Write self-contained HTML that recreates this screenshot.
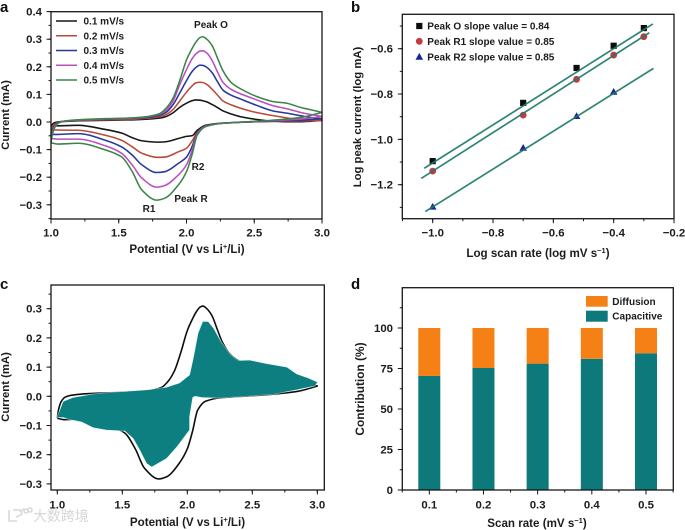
<!DOCTYPE html>
<html>
<head>
<meta charset="utf-8">
<title>Cyclic voltammetry and capacitive contribution panels</title>
<style>
html,body{margin:0;padding:0;background:#fff;width:685px;height:530px;overflow:hidden}
svg{display:block}
text{font-family:"Liberation Sans","Noto Sans CJK SC",sans-serif;fill:#1c1c1c;font-weight:700}
.tick{font-size:11.4px}
.title{font-size:11.6px}
.note{font-size:10px}
.letter{font-size:15px;fill:#111}
</style>
</head>
<body>
<svg id="figure" xmlns="http://www.w3.org/2000/svg" width="685" height="530" viewBox="0 0 685 530">
<defs><filter id="soft" x="-2%" y="-2%" width="104%" height="104%"><feGaussianBlur stdDeviation="0.38"/></filter></defs>
<g id="root" filter="url(#soft)">
  <g id="watermark">
    <path d="M9 510v11h8M13 510h6q4 1 2 5l-5 2M20 512a7 4 0 0 1 4-3M24 511a2 2 0 1 0 4 0a2 2 0 1 0-4 0M28 510a2 2 0 1 0 4 0a2 2 0 1 0-4 0" fill="none" stroke="#d9d9d9" stroke-width="1.6"/>
    <text x="33" y="521" style="font-size:14px;fill:#d6d6d6;font-weight:400;letter-spacing:-0.1px">大数跨境</text>
  </g>
  <g id="panel-a">
    <text class="letter" x="0" y="12">a</text>
    <text class="title" x="187" y="253" text-anchor="middle">Potential (V vs Li<tspan dy="-4" font-size="7.5">+</tspan><tspan dy="4">/Li)</tspan></text>
    <text class="title" style="font-size:11.3px" transform="translate(9,115) rotate(-90)" text-anchor="middle">Current (mA)</text>
    <text class="note" x="211" y="28" text-anchor="middle">Peak O</text>
    <text class="note" x="198" y="170" text-anchor="middle">R2</text>
    <text class="note" x="191" y="202" text-anchor="middle">Peak R</text>
    <text class="note" x="149" y="212" text-anchor="middle">R1</text>
  </g>
  <g id="panel-b">
    <text class="letter" x="351" y="12">b</text>
    <text class="title" x="538" y="257" text-anchor="middle">Log scan rate (log mV s<tspan dy="-4" font-size="7.5">−1</tspan><tspan dy="4">)</tspan></text>
    <text class="title" style="font-size:11.3px" transform="translate(361,117) rotate(-90)" text-anchor="middle">Log peak current (log mA)</text>
  </g>
  <g id="panel-c">
    <text class="letter" x="0" y="289">c</text>
    <text class="title" x="187.5" y="526" text-anchor="middle">Potential (V vs Li<tspan dy="-4" font-size="7.5">+</tspan><tspan dy="4">/Li)</tspan></text>
    <text class="title" style="font-size:11.3px" transform="translate(9,387) rotate(-90)" text-anchor="middle">Current (mA)</text>
  </g>
  <g id="panel-d">
    <text class="letter" x="351" y="289">d</text>
    <text class="title" x="537" y="527" text-anchor="middle">Scan rate (mV s<tspan dy="-4" font-size="7.5">−1</tspan><tspan dy="4">)</tspan></text>
    <text class="title" style="font-size:11.9px" transform="translate(364,389) rotate(-90)" text-anchor="middle">Contribution (%)</text>
  </g>
</g>
</svg>
<script>
// ---- Panel a data ----
const scanRates = ["0.1 mV/s", "0.2 mV/s", "0.3 mV/s", "0.4 mV/s", "0.5 mV/s"];
const anodicV = [1.0,1.01,1.03,1.06,1.1,1.2,1.4,1.6,1.7,1.8,1.85,1.9,1.95,2.0,2.04,2.07,2.1,2.12,2.15,2.19,2.23,2.27,2.33,2.4,2.52,2.64,2.74,2.84,2.92,3.0];
const anodic01 = [-.015,-.008,-.002,.001,.002,.004,.006,.008,.01,.014,.02,.033,.053,.068,.077,.08,.079,.077,.073,.063,.052,.04,.029,.019,.009,.003,.001,.001,.003,.006];
const anodic02 = [-.028,-.018,-.007,0,.003,.005,.008,.01,.013,.019,.027,.045,.076,.108,.13,.142,.144,.143,.136,.118,.097,.076,.062,.05,.034,.023,.015,.008,.006,.005];
const anodic03 = [-.045,-.028,-.012,-.001,.003,.006,.01,.013,.016,.024,.035,.062,.105,.15,.182,.198,.206,.205,.198,.178,.145,.115,.097,.083,.06,.04,.032,.023,.016,.012];
const anodic04 = [-.06,-.038,-.015,-.002,.003,.007,.011,.014,.018,.028,.042,.075,.135,.19,.228,.247,.257,.258,.25,.222,.18,.143,.118,.102,.08,.059,.048,.035,.027,.02];
const anodic05 = [-.075,-.045,-.018,-.003,.003,.008,.012,.015,.019,.03,.05,.086,.15,.225,.265,.29,.306,.309,.3,.276,.23,.185,.143,.12,.092,.074,.068,.053,.044,.035];
const cathodicV = [3.0,2.85,2.6,2.26,2.14,2.08,2.04,2.0,1.94,1.84,1.78,1.67,1.6,1.52,1.4,1.2,1.05,1.0];
const cathodic01 = [.006,.003,.002,-.004,-.012,-.03,-.05,-.052,-.06,-.072,-.073,-.068,-.057,-.04,-.027,-.012,-.014,-.015];
const cathodic02 = [.005,.004,.002,-.004,-.014,-.037,-.07,-.095,-.108,-.127,-.128,-.113,-.09,-.066,-.048,-.03,-.029,-.028];
const cathodic03 = [.012,.007,.003,-.005,-.015,-.04,-.09,-.127,-.15,-.18,-.183,-.155,-.12,-.09,-.066,-.042,-.045,-.045];
const cathodic04 = [.02,.011,.004,-.005,-.016,-.043,-.105,-.155,-.192,-.23,-.236,-.203,-.156,-.113,-.086,-.062,-.062,-.06];
const cathodic05 = [.035,.017,.005,-.005,-.017,-.047,-.12,-.18,-.228,-.276,-.283,-.246,-.18,-.126,-.101,-.077,-.08,-.075];
const cvColors = ["#141414", "#bb4a38", "#26389a", "#bb4fc0", "#3a8547"];
const aXTicks = [1.0, 1.5, 2.0, 2.5, 3.0];
const aYTicks = [-0.3, -0.2, -0.1, 0.0, 0.1, 0.2, 0.3, 0.4];

// ---- Panel b data ----
const logScanRate = [-1.0, -0.7, -0.523, -0.4, -0.3];
const logPeakO = [-1.096, -0.839, -0.685, -0.587, -0.509];
const logPeakR1 = [-1.14, -0.893, -0.735, -0.628, -0.547];
const logPeakR2 = [-1.297, -1.037, -0.897, -0.79];
const fitSlopes = [0.84, 0.85, 0.835];
const fitIntercepts = [-0.264, -0.29, -0.463];
const fitStart = [-1.028, -1.038, -1.0245];
const fitEnd = [-0.27, -0.282, -0.268];
const bLegend = ["Peak O slope value = 0.84", "Peak R1 slope value = 0.85", "Peak R2 slope value = 0.85"];
const bXTicks = [-1.0, -0.8, -0.6, -0.4, -0.2];
const bYTicks = [-1.2, -1.0, -0.8, -0.6];

// ---- Panel c data ----
const capacitiveV = [1.0,1.046,1.12,1.277,1.457,1.713,1.84,1.94,2.02,2.05,2.085,2.12,2.16,2.2,2.265,2.33,2.39,2.48,2.61,2.765,2.84,2.93,3.0,2.98,2.84,2.66,2.457,2.226,2.11,2.06,2.04,2.015,2.015,1.92,1.84,1.726,1.688,1.636,1.585,1.52,1.38,1.277,1.188,1.098,1.046,1.0];
const capacitiveI = [-.072,-.018,-.005,.007,.014,.022,.03,.045,.073,.135,.216,.255,.255,.233,.181,.141,.122,.123,.111,.099,.076,.062,.048,.036,.023,.008,.001,-.005,-.003,.001,-.003,-.07,-.115,-.172,-.212,-.241,-.229,-.184,-.144,-.118,-.115,-.107,-.087,-.079,-.072,-.072];
const cXTicks = [1.0, 1.5, 2.0, 2.5, 3.0];
const cYTicks = [-0.3, -0.2, -0.1, 0.0, 0.1, 0.2, 0.3];

// ---- Panel d data ----
const dCategories = ["0.1", "0.2", "0.3", "0.4", "0.5"];
const capacitiveShare = [70.4, 75.3, 78, 81, 84.4];
const dYTicks = [0, 25, 50, 75, 100];

// ---- helpers ----
const NS = "http://www.w3.org/2000/svg";
function mk(tag, attrs, parent) {
  const el = document.createElementNS(NS, tag);
  for (const k in attrs) el.setAttribute(k, attrs[k]);
  parent.appendChild(el);
  return el;
}
function linear(d0, d1, r0, r1) {
  return v => r0 + (v - d0) * (r1 - r0) / (d1 - d0);
}
function fmt(v, digits) {
  const s = Math.abs(v).toFixed(digits);
  return (v < -1e-9 ? "\u2212" : "") + s;
}
function smooth(pts, move) {
  const n = pts.length, s = [], m = [];
  for (let i = 0; i < n - 1; i++) s.push((pts[i + 1][1] - pts[i][1]) / (pts[i + 1][0] - pts[i][0]));
  m[0] = s[0];
  m[n - 1] = s[n - 2];
  for (let i = 1; i < n - 1; i++) m[i] = s[i - 1] * s[i] <= 0 ? 0 : 2 * s[i - 1] * s[i] / (s[i - 1] + s[i]);
  let d = move ? "M" + pts[0][0].toFixed(2) + " " + pts[0][1].toFixed(2) : "";
  for (let i = 0; i < n - 1; i++) {
    const h = pts[i + 1][0] - pts[i][0];
    d += "C" + (pts[i][0] + h / 3).toFixed(2) + " " + (pts[i][1] + m[i] * h / 3).toFixed(2) + " " +
      (pts[i + 1][0] - h / 3).toFixed(2) + " " + (pts[i + 1][1] - m[i + 1] * h / 3).toFixed(2) + " " +
      pts[i + 1][0].toFixed(2) + " " + pts[i + 1][1].toFixed(2);
  }
  return d;
}
function loopPath(x, y, up, upV, down, downV) {
  const a = up.map((v, i) => [x(upV[i]), y(v)]);
  const b = down.map((v, i) => [x(downV[i]), y(v)]);
  return smooth(a, true) + smooth(b, false);
}
function drawFrame(parent, prefix, box) {
  const el = mk("rect", {x: box.l, y: box.t, width: box.r - box.l, height: box.b - box.t, fill: "none", stroke: "#161616", "stroke-width": 1.3}, parent);
  
  
}
function xTick(parent, prefix, box, px, len) {
  const el = mk("line", {x1: px, x2: px, y1: box.b, y2: box.b + len, stroke: "#161616", "stroke-width": 1}, parent);
  
  
}
function yTick(parent, prefix, box, py, len) {
  const el = mk("line", {x1: box.l, x2: box.l - len, y1: py, y2: py, stroke: "#161616", "stroke-width": 1}, parent);
  
  
}
function xLabel(parent, prefix, px, py, str) {
  const el = mk("text", {x: px, y: py, "text-anchor": "middle", class: "tick"}, parent);
  el.textContent = str;
  
  
}
function yLabel(parent, prefix, px, py, str) {
  const el = mk("text", {x: px, y: py + 4, "text-anchor": "end", class: "tick"}, parent);
  el.textContent = str;
  
  
}
function minorBetween(ticks, lo, hi) {
  const step = (ticks[1] - ticks[0]) / 2, out = [];
  for (let v = ticks[0] - step * 4; v <= hi + 1e-6; v += step) {
    if (v >= lo - 1e-6) out.push(v);
  }
  return out;
}

// ---- Panel a ----
(function () {
  const g = document.getElementById("panel-a");
  const box = {l: 51, r: 322, t: 11.7, b: 219};
  const x = linear(1, 3, 51, 322), y = linear(0, 0.4, 122, 11.6);
  const ups = [anodic01, anodic02, anodic03, anodic04, anodic05];
  const downs = [cathodic01, cathodic02, cathodic03, cathodic04, cathodic05];
  scanRates.forEach((name, i) => {
    const p = mk("path", {d: loopPath(x, y, ups[i], anodicV, downs[i], cathodicV), fill: "none", stroke: cvColors[i], "stroke-width": 1.55, "stroke-linejoin": "round"}, g);
    
    
    const ly = 21 + i * 14.75;
    const sw = mk("line", {x1: 56, x2: 77, y1: ly, y2: ly, stroke: cvColors[i], "stroke-width": 1.6}, g);
    
    
    const t = mk("text", {x: 83.5, y: ly + 3.6, class: "note"}, g);
    t.textContent = name;
    
    
  });
  drawFrame(g, "panel-a", box);
  minorBetween(aXTicks, 1, 3).forEach(v => xTick(g, "panel-a-minor", box, x(v), 2.5));
  minorBetween(aYTicks, -0.35, 0.4).forEach(v => yTick(g, "panel-a-minor", box, y(v), 2.5));
  aXTicks.forEach(v => { xTick(g, "panel-a", box, x(v), 4.5); xLabel(g, "panel-a", x(v), 236.5, v.toFixed(1)); });
  aYTicks.forEach(v => { yTick(g, "panel-a", box, y(v), 4.5); yLabel(g, "panel-a", 42, y(v), fmt(v, 1)); });
})();

// ---- Panel b ----
(function () {
  const g = document.getElementById("panel-b");
  const box = {l: 402.3, r: 674, t: 14.3, b: 218.7};
  const x = linear(-1, -0.2, 432.7, 674), y = linear(-0.6, -1.2, 48.7, 184.7);
  function square(px, py, name) {
    const el = mk("rect", {x: px - 3.1, y: py - 3.1, width: 6.2, height: 6.2, fill: "#111"}, g);
    
    
  }
  function circle(px, py, name) {
    const el = mk("circle", {cx: px, cy: py, r: 3.4, fill: "#c9383e"}, g);
    
    
  }
  function triangle(px, py, name) {
    const el = mk("polygon", {points: (px - 3.8) + "," + (py + 3) + " " + (px + 3.8) + "," + (py + 3) + " " + px + "," + (py - 3.8), fill: "#16259c"}, g);
    
    
  }
  logPeakO.forEach((v, i) => square(x(logScanRate[i]), y(v), "peak-o-point"));
  logPeakR1.forEach((v, i) => circle(x(logScanRate[i]), y(v), "peak-r1-point"));
  logPeakR2.forEach((v, i) => triangle(x(logScanRate[i]), y(v), "peak-r2-point"));
  fitSlopes.forEach((s, i) => {
    const el = mk("line", {x1: x(fitStart[i]), y1: y(s * fitStart[i] + fitIntercepts[i]), x2: x(fitEnd[i]), y2: y(s * fitEnd[i] + fitIntercepts[i]), stroke: "#1f7a68", "stroke-width": 1.7, "stroke-opacity": 0.92}, g);
    
    
  });
  const ly = [26, 41.3, 56.7];
  square(419.3, ly[0], "legend-square-marker");
  circle(419.3, ly[1], "legend-circle-marker");
  triangle(419.3, ly[2], "legend-triangle-marker");
  bLegend.forEach((s, i) => {
    const t = mk("text", {x: 427.3, y: ly[i] + 3.6, class: "note"}, g);
    t.textContent = s;
    
    
  });
  drawFrame(g, "panel-b", box);
  minorBetween(bXTicks, -1.1, -0.2).forEach(v => xTick(g, "panel-b-minor", box, x(v), 2.5));
  minorBetween(bYTicks, -1.35, -0.45).forEach(v => yTick(g, "panel-b-minor", box, y(v), 2.5));
  bXTicks.forEach(v => { xTick(g, "panel-b", box, x(v), 4.5); xLabel(g, "panel-b", x(v), 236.5, fmt(v, 1)); });
  bYTicks.forEach(v => { yTick(g, "panel-b", box, y(v), 4.5); yLabel(g, "panel-b", 393, y(v), fmt(v, 1)); });
})();

// ---- Panel c ----
(function () {
  const g = document.getElementById("panel-c");
  const box = {l: 51, r: 324.3, t: 285, b: 490};
  const x = linear(1, 3, 57.3, 317.3), y = linear(0, 0.3, 396.3, 308.7);
  const p = mk("path", {d: loopPath(x, y, anodic05, anodicV, cathodic05, cathodicV), fill: "none", stroke: "#111", "stroke-width": 1.6, "stroke-linejoin": "round"}, g);
  
  
  const pts = capacitiveV.map((v, i) => x(v).toFixed(1) + "," + y(capacitiveI[i]).toFixed(1)).join(" ");
  const halo = mk("polygon", {points: pts, fill: "#d5f7f7", stroke: "#d5f7f7", "stroke-width": 1.6, "stroke-linejoin": "round", "fill-opacity": 0.8, "stroke-opacity": 0.55}, g);
  
  
  const area = mk("polygon", {points: pts, fill: "#0b7f80", "stroke-linejoin": "round"}, g);
  
  
  drawFrame(g, "panel-c", box);
  minorBetween(cXTicks, 1, 3).forEach(v => xTick(g, "panel-c-minor", box, x(v), 2.5));
  minorBetween(cYTicks, -0.3, 0.35).forEach(v => yTick(g, "panel-c-minor", box, y(v), 2.5));
  cXTicks.forEach(v => { xTick(g, "panel-c", box, x(v), 4.5); xLabel(g, "panel-c", x(v), 508.5, v.toFixed(1)); });
  cYTicks.forEach(v => { yTick(g, "panel-c", box, y(v), 4.5); yLabel(g, "panel-c", 42, y(v), fmt(v, 1)); });
})();

// ---- Panel d ----
(function () {
  const g = document.getElementById("panel-d");
  const box = {l: 402.3, r: 673.3, t: 287.7, b: 490};
  const x = linear(0, 4, 429.3, 646), y = linear(0, 100, 490, 328);
  const bw = 22;
  dCategories.forEach((c, i) => {
    const cx = x(i);
    const cap = mk("rect", {x: cx - bw / 2, y: y(capacitiveShare[i]), width: bw, height: y(0) - y(capacitiveShare[i]), fill: "#07797a"}, g);
    
    
    const dif = mk("rect", {x: cx - bw / 2, y: y(100), width: bw, height: y(capacitiveShare[i]) - y(100), fill: "#f58012"}, g);
    
    
    xTick(g, "panel-d", box, cx, 4.5);
    xLabel(g, "panel-d", cx, 508.5, c);
    xTick(g, "panel-d-minor", box, x(i + 0.5), 2.5);
  });
  xTick(g, "panel-d-minor", box, x(-0.5), 2.5);
  const s1 = mk("rect", {x: 586, y: 296, width: 21.7, height: 10.7, fill: "#f58012"}, g);
  
  
  const s2 = mk("rect", {x: 586, y: 310.7, width: 21.7, height: 11, fill: "#07797a"}, g);
  
  
  const t1 = mk("text", {x: 612.3, y: 305, class: "note"}, g);
  t1.textContent = "Diffusion";
  
  
  const t2 = mk("text", {x: 612.3, y: 319.7, class: "note"}, g);
  t2.textContent = "Capacitive";
  
  
  drawFrame(g, "panel-d", box);
  minorBetween(dYTicks, 0, 120).forEach(v => yTick(g, "panel-d-minor", box, y(v), 2.5));
  dYTicks.forEach(v => { yTick(g, "panel-d", box, y(v), 4.5); yLabel(g, "panel-d", 393, y(v), String(v)); });
})();
</script>
</body>
</html>
